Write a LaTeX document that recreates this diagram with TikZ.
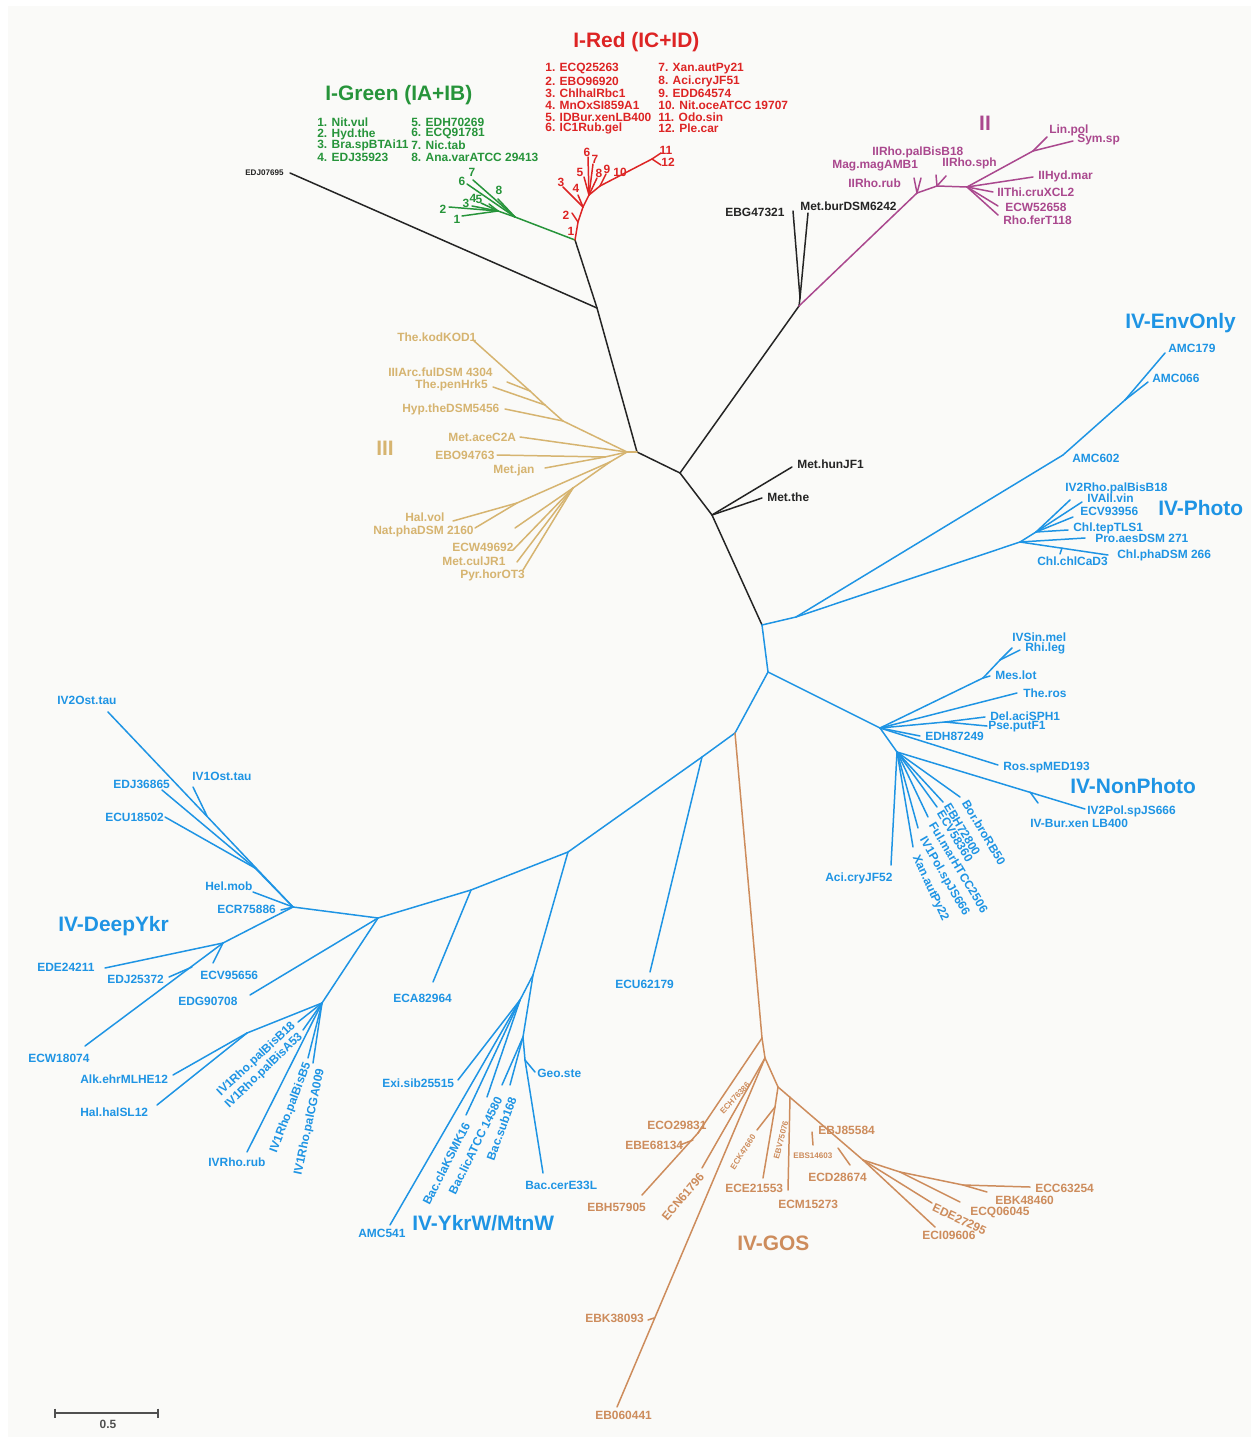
\documentclass[tikz,border=0pt]{standalone}
\usepackage{fontspec}
\setmainfont{Liberation Sans}
\usetikzlibrary{positioning}
\definecolor{cred}{RGB}{221,36,36}
\definecolor{cgreen}{RGB}{38,148,58}
\definecolor{cpurple}{RGB}{170,72,142}
\definecolor{ctan}{RGB}{214,180,112}
\definecolor{cblack}{RGB}{36,36,36}
\definecolor{cblue}{RGB}{30,148,228}
\definecolor{cgos}{RGB}{205,140,92}
\definecolor{cbg}{RGB}{250,250,248}
\definecolor{cbar}{RGB}{80,80,80}

\begin{document}
\begin{tikzpicture}[x=0.02cm,y=-0.02cm,
  br/.style={line width=0.85pt,line cap=round,line join=round},
  lf/.style={font=\bfseries\fontsize{6.8}{7}\selectfont,inner sep=0pt,anchor=west},
  num/.style={font=\bfseries\fontsize{6.8}{7}\selectfont,inner sep=0pt},
  tiny/.style={font=\bfseries\fontsize{4.6}{5}\selectfont,inner sep=0pt},
  big/.style={font=\bfseries\fontsize{11.9}{13}\selectfont,inner sep=0pt,anchor=west}]
\useasboundingbox (0,0) rectangle (1259,1443);
\fill[white] (0,0) rectangle (1259,1443);
\fill[cbg] (8,6) rectangle (1251,1437);

% backbone (black)
\coordinate (k0) at (575,240);
\coordinate (k1) at (597,308);
\coordinate (k2) at (637,452);
\coordinate (k3) at (680,473);
\coordinate (k4) at (712,515);
\coordinate (k5) at (762,625);
\coordinate (k6) at (799,306);
\coordinate (k7) at (800,298);
\coordinate (edj) at (290,173);
\coordinate (ebg) at (793,211);
\coordinate (metbur) at (808,213);
\coordinate (methun) at (792,467);
\coordinate (metthe) at (762,498);
\path[br,cblack] (k0) edge (k1) (k1) edge (k2) (k1) edge (edj)
  (k2) edge (k3) (k3) edge (k4) (k4) edge (k5) (k3) edge (k6)
  (k6) edge (k7) (k7) edge (ebg) (k7) edge (metbur)
  (k4) edge (methun) (k4) edge (metthe);
\node[tiny,cblack,anchor=west] (ledj) at (245,173) {EDJ07695};
\node[lf,cblack] (lebg) at (725,212) {EBG47321};
\node[lf,cblack] (lmetbur) at (800,206) {Met.burDSM6242};
\node[lf,cblack] (lmethun) at (797,464) {Met.hunJF1};
\node[lf,cblack] (lmetthe) at (767,497) {Met.the};

% I-Green
\coordinate (gA) at (515,217);
\coordinate (gB) at (498,211);
\coordinate (g1) at (462,216);
\coordinate (g2) at (449,207);
\coordinate (g3) at (472,206);
\coordinate (g4) at (481,203);
\coordinate (g5) at (489,204);
\coordinate (g6) at (467,184);
\coordinate (g7) at (473,180);
\coordinate (g8) at (498,199);
\path[br,cgreen] (k0) edge (gA) (gA) edge (gB)
  (gB) edge (g1) (gB) edge (g2) (gB) edge (g3) (gB) edge (g4) (gB) edge (g5)
  (gA) edge (g6) (gA) edge (g7) (gA) edge (g8);
\node[num,cgreen] (lg1) at (457,219) {1};
\node[num,cgreen] (lg2) at (443,209) {2};
\node[num,cgreen] (lg3) at (466,203) {3};
\node[num,cgreen] (lg4) at (473,198) {4};
\node[num,cgreen] (lg5) at (479,199) {5};
\node[num,cgreen] (lg6) at (462,181) {6};
\node[num,cgreen] (lg7) at (472,172) {7};
\node[num,cgreen] (lg8) at (499,190) {8};
\node[big,cgreen] (tgreen) at (325,95) {I-Green (IA+IB)};
\node[lf,cgreen] (gl1) at (317,122) {1. Nit.vul};
\node[lf,cgreen] (gl2) at (317,134) {2. Hyd.the};
\node[lf,cgreen] (gl3) at (317,145) {3. Bra.spBTAi11};
\node[lf,cgreen] (gl4) at (317,157) {4. EDJ35923};
\node[lf,cgreen] (gl5) at (411,122) {5. EDH70269};
\node[lf,cgreen] (gl6) at (411,134) {6. ECQ91781};
\node[lf,cgreen] (gl7) at (411,145) {7. Nic.tab};
\node[lf,cgreen] (gl8) at (411,157) {8. Ana.varATCC 29413};

% I-Red
\coordinate (rA) at (578,222);
\coordinate (rB) at (583,207);
\coordinate (rC) at (589,195);
\coordinate (rD) at (600,186);
\coordinate (rE) at (652,159);
\coordinate (r2) at (572,213);
\coordinate (r3) at (563,187);
\coordinate (r4) at (578,195);
\coordinate (r5) at (584,177);
\coordinate (r6) at (588,157);
\coordinate (r7) at (593,164);
\coordinate (r8) at (597,178);
\coordinate (r9) at (606,174);
\coordinate (r11) at (661,153);
\coordinate (r12) at (661,165);
\path[br,cred] (k0) edge (rA) (rA) edge (rB) (rB) edge (rC) (rC) edge (rD) (rD) edge (rE)
  (rA) edge (r2) (rB) edge (r3) (rB) edge (r4) (rC) edge (r5) (rC) edge (r6)
  (rC) edge (r7) (rC) edge (r8) (rD) edge (r9) (rE) edge (r11) (rE) edge (r12);
\node[num,cred] (lr1) at (571,231) {1};
\node[num,cred] (lr2) at (566,215) {2};
\node[num,cred] (lr3) at (561,182) {3};
\node[num,cred] (lr4) at (576,188) {4};
\node[num,cred] (lr5) at (580,172) {5};
\node[num,cred] (lr6) at (587,152) {6};
\node[num,cred] (lr7) at (595,159) {7};
\node[num,cred] (lr8) at (599,173) {8};
\node[num,cred] (lr9) at (607,169) {9};
\node[num,cred] (lr10) at (620,172) {10};
\node[num,cred] (lr11) at (666,150) {11};
\node[num,cred] (lr12) at (668,162) {12};
\node[big,cred] (tred) at (573,42) {I-Red (IC+ID)};
\node[lf,cred] (rl1) at (545,69) {1. ECQ25263};
\node[lf,cred] (rl2) at (545,81) {2. EBO96920};
\node[lf,cred] (rl3) at (545,93) {3. ChlhalRbc1};
\node[lf,cred] (rl4) at (545,105) {4. MnOxSI859A1};
\node[lf,cred] (rl5) at (545,117) {5. IDBur.xenLB400};
\node[lf,cred] (rl6) at (545,128) {6. IC1Rub.gel};
\node[lf,cred] (rl7) at (658,69) {7. Xan.autPy21};
\node[lf,cred] (rl8) at (658,81) {8. Aci.cryJF51};
\node[lf,cred] (rl9) at (658,93) {9. EDD64574};
\node[lf,cred] (rl10) at (658,105) {10. Nit.oceATCC 19707};
\node[lf,cred] (rl11) at (658,117) {11. Odo.sin};
\node[lf,cred] (rl12) at (658,128) {12. Ple.car};

% II
\coordinate (pA) at (917,193);
\coordinate (pB) at (937,186);
\coordinate (pC) at (967,187);
\coordinate (pD) at (1033,151);
\coordinate (rhorub) at (914,178);
\coordinate (magmag) at (921,178);
\coordinate (rhopal) at (936,175);
\coordinate (rhosph) at (946,176);
\coordinate (linpol) at (1047,137);
\coordinate (symsp) at (1073,141);
\coordinate (hydmar) at (1033,177);
\coordinate (thicru) at (993,192);
\coordinate (ecw526) at (998,206);
\coordinate (rhofer) at (998,215);
\path[br,cpurple] (k6) edge (pA) (pA) edge (pB) (pB) edge (pC) (pC) edge (pD)
  (pA) edge (rhorub) (pA) edge (magmag) (pB) edge (rhopal) (pB) edge (rhosph)
  (pD) edge (linpol) (pD) edge (symsp) (pC) edge (hydmar) (pC) edge (thicru)
  (pC) edge (ecw526) (pC) edge (rhofer);
\node[lf,cpurple] (lrhopal) at (872,152) {IIRho.palBisB18};
\node[lf,cpurple] (lmagmag) at (832,166) {Mag.magAMB1};
\node[lf,cpurple] (lrhorub) at (848,183) {IIRho.rub};
\node[lf,cpurple] (lrhosph) at (942,163) {IIRho.sph};
\node[lf,cpurple] (llinpol) at (1049,130) {Lin.pol};
\node[lf,cpurple] (lsymsp) at (1077,140) {Sym.sp};
\node[lf,cpurple] (lhydmar) at (1038,176) {IIHyd.mar};
\node[lf,cpurple] (lthicru) at (997,192) {IIThi.cruXCL2};
\node[lf,cpurple] (lecw526) at (1005,207) {ECW52658};
\node[lf,cpurple] (lrhofer) at (1003,220) {Rho.ferT118};
\node[big,cpurple,anchor=center] (tii) at (985,123) {II};

% III
\coordinate (tA) at (627,452);
\coordinate (tB) at (563,421);
\coordinate (tC) at (530,391);
\coordinate (tD) at (545,405);
\coordinate (tE) at (605,457);
\coordinate (tF) at (610,462);
\coordinate (tG) at (517,503);
\coordinate (tH) at (573,488);
\coordinate (thekod) at (473,340);
\coordinate (iiiarc) at (507,382);
\coordinate (thepen) at (493,387);
\coordinate (hypthe) at (505,409);
\coordinate (metace) at (520,437);
\coordinate (ebo947) at (497,455);
\coordinate (metjan) at (545,468);
\coordinate (halvol) at (453,521);
\coordinate (natpha) at (475,528);
\coordinate (tI) at (515,528);
\coordinate (ecw496) at (513,550);
\coordinate (metcul) at (517,562);
\coordinate (pyrhor) at (523,570);
\path[br,ctan] (k2) edge (tA) (tA) edge (tB) (tB) edge (tD) (tD) edge (tC) (tC) edge (thekod)
  (tC) edge (iiiarc) (tD) edge (thepen) (tB) edge (hypthe) (tA) edge (metace)
  (tA) edge (tE) (tE) edge (ebo947) (tE) edge (metjan) (tA) edge (tF)
  (tF) edge (tG) (tG) edge (halvol) (tG) edge (natpha) (tF) edge (tH)
  (tH) edge (tI) (tH) edge (ecw496) (tH) edge (metcul) (tH) edge (pyrhor);
\node[lf,ctan] (lthekod) at (397,337) {The.kodKOD1};
\node[lf,ctan] (liiiarc) at (388,372) {IIIArc.fulDSM 4304};
\node[lf,ctan] (lthepen) at (415,385) {The.penHrk5};
\node[lf,ctan] (lhypthe) at (402,409) {Hyp.theDSM5456};
\node[lf,ctan] (lmetace) at (448,437) {Met.aceC2A};
\node[lf,ctan] (lebo947) at (435,455) {EBO94763};
\node[lf,ctan] (lmetjan) at (493,470) {Met.jan};
\node[lf,ctan] (lhalvol) at (405,517) {Hal.vol};
\node[lf,ctan] (lnatpha) at (373,531) {Nat.phaDSM 2160};
\node[lf,ctan] (lecw496) at (452,547) {ECW49692};
\node[lf,ctan] (lmetcul) at (442,561) {Met.culJR1};
\node[lf,ctan] (lpyrhor) at (460,575) {Pyr.horOT3};
\node[big,ctan,anchor=center] (tiii) at (385,448) {III};

% IV-EnvOnly / IV-Photo
\coordinate (eA) at (796,617);
\coordinate (eB) at (1063,455);
\coordinate (eC) at (1125,400);
\coordinate (amc066) at (1148,382);
\coordinate (amc179) at (1165,353);
\coordinate (fA) at (1020,542);
\coordinate (fB) at (1036,532);
\coordinate (fC) at (1062,548);
\coordinate (ivrho2) at (1070,500);
\coordinate (ivall) at (1082,502);
\coordinate (ecv939) at (1073,517);
\coordinate (chltep) at (1068,530);
\coordinate (proaes) at (1085,538);
\coordinate (chlpha) at (1108,555);
\coordinate (chlchl) at (1060,554);
\path[br,cblue] (k5) edge (eA) (eA) edge (eB) (eB) edge (eC) (eC) edge (amc066) (eC) edge (amc179)
  (eA) edge (fA) (fA) edge (fB) (fB) edge (ivrho2) (fB) edge (ivall) (fB) edge (ecv939)
  (fB) edge (chltep) (fA) edge (proaes) (fA) edge (chlpha) (fC) edge (chlchl);
\node[lf,cblue] (lamc179) at (1168,348) {AMC179};
\node[lf,cblue] (lamc066) at (1152,378) {AMC066};
\node[lf,cblue] (lamc602) at (1072,458) {AMC602};
\node[lf,cblue] (livrho2) at (1065,488) {IV2Rho.palBisB18};
\node[lf,cblue] (livall) at (1087,498) {IVAll.vin};
\node[lf,cblue] (lecv939) at (1080,511) {ECV93956};
\node[lf,cblue] (lchltep) at (1073,528) {Chl.tepTLS1};
\node[lf,cblue] (lproaes) at (1095,538) {Pro.aesDSM 271};
\node[lf,cblue] (lchlpha) at (1117,555) {Chl.phaDSM 266};
\node[lf,cblue] (lchlchl) at (1037,561) {Chl.chlCaD3};
\node[big,cblue] (tenv) at (1125,323) {IV-EnvOnly};
\node[big,cblue] (tphoto) at (1158,508) {IV-Photo};

% blue backbone
\coordinate (bA) at (768,672);
\coordinate (bB) at (735,733);
\coordinate (bC) at (702,757);
\coordinate (bD) at (568,852);
\coordinate (bE) at (471,890);
\coordinate (bF) at (378,918);
\coordinate (ecu621) at (650,972);
\coordinate (eca829) at (433,982);
\path[br,cblue] (k5) edge (bA) (bA) edge (bB) (bB) edge (bC) (bC) edge (bD) (bD) edge (bE)
  (bE) edge (bF) (bC) edge (ecu621) (bE) edge (eca829);
\node[lf,cblue] (lecu621) at (615,984) {ECU62179};
\node[lf,cblue] (leca829) at (393,998) {ECA82964};

% IV-NonPhoto
\coordinate (nA) at (880,728);
\coordinate (nB) at (983,678);
\coordinate (nC) at (1000,660);
\coordinate (nD) at (945,722);
\coordinate (nE) at (897,752);
\coordinate (nF) at (1030,792);
\coordinate (sinmel) at (1012,648);
\coordinate (rhileg) at (1020,650);
\coordinate (meslot) at (990,676);
\coordinate (theros) at (1017,693);
\coordinate (delaci) at (985,717);
\coordinate (pseput) at (987,726);
\coordinate (edh872) at (920,736);
\coordinate (rossp) at (998,765);
\coordinate (ivpol2) at (1085,809);
\coordinate (burxen) at (1038,803);
\coordinate (borbro) at (960,797);
\coordinate (ebh728) at (943,802);
\coordinate (ecv583) at (937,807);
\coordinate (fulmar) at (928,817);
\coordinate (ivpol1) at (918,828);
\coordinate (xanaut) at (913,847);
\coordinate (acicry) at (891,865);
\path[br,cblue] (bA) edge (nA) (nA) edge (nB) (nB) edge (nC) (nC) edge (sinmel) (nC) edge (rhileg)
  (nB) edge (meslot) (nA) edge (theros) (nA) edge (nD) (nD) edge (delaci) (nD) edge (pseput)
  (nA) edge (edh872) (nA) edge (rossp) (nA) edge (nE) (nE) edge (ivpol2) (nF) edge (burxen)
  (nE) edge (borbro) (nE) edge (ebh728) (nE) edge (ecv583) (nE) edge (fulmar)
  (nE) edge (ivpol1) (nE) edge (xanaut) (nE) edge (acicry);
\node[lf,cblue] (lsinmel) at (1012,637) {IVSin.mel};
\node[lf,cblue] (lrhileg) at (1025,648) {Rhi.leg};
\node[lf,cblue] (lmeslot) at (995,675) {Mes.lot};
\node[lf,cblue] (ltheros) at (1023,693) {The.ros};
\node[lf,cblue] (ldelaci) at (990,716) {Del.aciSPH1};
\node[lf,cblue] (lpseput) at (988,727) {Pse.putF1};
\node[lf,cblue] (ledh872) at (925,736) {EDH87249};
\node[lf,cblue] (lrossp) at (1003,768) {Ros.spMED193};
\node[lf,cblue] (livpol2) at (1087,811) {IV2Pol.spJS666};
\node[lf,cblue] (lburxen) at (1030,823) {IV-Bur.xen LB400};
\node[lf,cblue,rotate=-59] (lborbro) at (965,801) {Bor.broRB50};
\node[lf,cblue,rotate=-59] (lebh728) at (947,804) {EBH72800};
\node[lf,cblue,rotate=-59] (lecv583) at (940,811) {ECV58360};
\node[lf,cblue,rotate=-59] (lfulmar) at (932,823) {Ful.marHTCC2506};
\node[lf,cblue,rotate=-60] (livpol1) at (922,838) {IV1Pol.spJS666};
\node[lf,cblue,rotate=-65] (lxanaut) at (915,856) {Xan.autPy22};
\node[lf,cblue] (lacicry) at (825,878) {Aci.cryJF52};
\node[big,cblue] (tnonph) at (1070,786) {IV-NonPhoto};

% IV-DeepYkr
\coordinate (dA) at (293,907);
\coordinate (dB) at (207,816);
\coordinate (dC) at (255,868);
\coordinate (dD) at (223,943);
\coordinate (dE) at (192,967);
\coordinate (rA0) at (322,1003);
\coordinate (rA1) at (247,1033);
\coordinate (ost2) at (108,712);
\coordinate (ost1) at (193,787);
\coordinate (edj368) at (162,790);
\coordinate (ecu185) at (165,817);
\coordinate (helmob) at (253,892);
\coordinate (ecr758) at (281,910);
\coordinate (ede242) at (105,968);
\coordinate (edj253) at (169,977);
\coordinate (ecv956) at (213,963);
\coordinate (ecw180) at (85,1046);
\coordinate (edg907) at (250,995);
\coordinate (alkehr) at (173,1075);
\coordinate (halhal) at (157,1105);
\coordinate (rhob18) at (298,1022);
\coordinate (rhoa53) at (303,1030);
\coordinate (rhob5) at (308,1058);
\coordinate (rhocga) at (313,1063);
\coordinate (rhorub4) at (247,1152);
\path[br,cblue] (bF) edge (dA) (dA) edge (ost2) (dB) edge (ost1) (dA) edge (dC)
  (dC) edge (edj368) (dC) edge (ecu185) (dA) edge (helmob) (dA) edge (ecr758)
  (dA) edge (dD) (dD) edge (ede242) (dD) edge (ecv956) (dD) edge (ecw180) (dE) edge (edj253)
  (bF) edge (edg907) (bF) edge (rA0) (rA0) edge (rA1) (rA1) edge (alkehr) (rA1) edge (halhal)
  (rA0) edge (rhob18) (rA0) edge (rhoa53) (rA0) edge (rhob5) (rA0) edge (rhocga) (rA0) edge (rhorub4);
\node[lf,cblue] (lost2) at (57,700) {IV2Ost.tau};
\node[lf,cblue] (lost1) at (192,776) {IV1Ost.tau};
\node[lf,cblue] (ledj368) at (113,784) {EDJ36865};
\node[lf,cblue] (lecu185) at (105,817) {ECU18502};
\node[lf,cblue] (lhelmob) at (205,886) {Hel.mob};
\node[lf,cblue] (lecr758) at (217,909) {ECR75886};
\node[lf,cblue] (lede242) at (37,967) {EDE24211};
\node[lf,cblue] (ledj253) at (107,979) {EDJ25372};
\node[lf,cblue] (lecv956) at (200,975) {ECV95656};
\node[lf,cblue] (ledg907) at (178,1001) {EDG90708};
\node[lf,cblue] (lecw180) at (28,1058) {ECW18074};
\node[lf,cblue] (lalkehr) at (80,1079) {Alk.ehrMLHE12};
\node[lf,cblue] (lhalhal) at (80,1112) {Hal.halSL12};
\node[lf,cblue] (lrhorub4) at (208,1162) {IVRho.rub};
\node[lf,cblue,anchor=east,rotate=43] (lrhob18) at (294,1024) {IV1Rho.palBisB18};
\node[lf,cblue,anchor=east,rotate=44] (lrhoa53) at (301,1035) {IV1Rho.palBisA53};
\node[lf,cblue,anchor=east,rotate=69] (lrhob5) at (308,1063) {IV1Rho.palBisB5};
\node[lf,cblue,anchor=east,rotate=78] (lrhocga) at (321,1069) {IV1Rho.palCGA009};
\node[big,cblue] (tdeep) at (58,926) {IV-DeepYkr};

% IV-YkrW/MtnW
\coordinate (yA) at (533,975);
\coordinate (yB) at (520,1000);
\coordinate (yC) at (523,1037);
\coordinate (yD) at (525,1060);
\coordinate (amc541) at (390,1225);
\coordinate (exisib) at (458,1080);
\coordinate (baccla) at (466,1115);
\coordinate (baclic) at (487,1097);
\coordinate (bacsubA) at (502,1085);
\coordinate (bacsubB) at (510,1085);
\coordinate (geoste) at (535,1072);
\coordinate (baccer) at (543,1173);
\path[br,cblue] (bD) edge (yA) (yA) edge (yB) (yB) edge (amc541) (yB) edge (exisib)
  (yB) edge (baccla) (yB) edge (baclic) (yA) edge (yC) (yC) edge (bacsubA) (yC) edge (bacsubB)
  (yC) edge (yD) (yD) edge (geoste) (yD) edge (baccer);
\node[lf,cblue] (lamc541) at (358,1233) {AMC541};
\node[lf,cblue] (lexisib) at (382,1083) {Exi.sib25515};
\node[lf,cblue] (lgeoste) at (537,1073) {Geo.ste};
\node[lf,cblue] (lbaccer) at (525,1185) {Bac.cerE33L};
\node[lf,cblue,anchor=east,rotate=63] (lbaccla) at (467,1123) {Bac.claKSMK16};
\node[lf,cblue,anchor=east,rotate=64] (lbaclic) at (499,1097) {Bac.licATCC 14580};
\node[lf,cblue,anchor=east,rotate=70] (lbacsub) at (513,1097) {Bac.sub168};
\node[big,cblue] (tykr) at (412,1223) {IV-YkrW/MtnW};

% IV-GOS
\coordinate (oA) at (762,1038);
\coordinate (oB) at (698,1133);
\coordinate (oC) at (693,1140);
\coordinate (oD) at (765,1058);
\coordinate (oE) at (778,1087);
\coordinate (oF) at (775,1107);
\coordinate (oG) at (790,1097);
\coordinate (oH) at (812,1132);
\coordinate (oI) at (838,1148);
\coordinate (oJ) at (863,1160);
\coordinate (oK) at (900,1172);
\coordinate (oL) at (963,1185);
\coordinate (oM) at (654,1318);
\coordinate (eco298) at (704,1124);
\coordinate (ebe681) at (680,1145);
\coordinate (ebh579) at (642,1195);
\coordinate (ecn617) at (702,1168);
\coordinate (eb0604) at (617,1407);
\coordinate (ebk380) at (648,1320);
\coordinate (eck476) at (757,1130);
\coordinate (ece215) at (763,1178);
\coordinate (ebv750) at (788,1190);
\coordinate (ebj855) at (813,1145);
\coordinate (ecd286) at (850,1165);
\coordinate (eci096) at (935,1227);
\coordinate (ede272) at (932,1203);
\coordinate (ecq060) at (960,1202);
\coordinate (ebk484) at (987,1192);
\coordinate (ecc632) at (1030,1187);
\path[br,cgos] (bB) edge (oA) (oA) edge (oB) (oB) edge (ebh579) (oB) edge (eco298) (oC) edge (ebe681)
  (oA) edge (oD) (oD) edge (ecn617) (oD) edge (eb0604) (oM) edge (ebk380)
  (oD) edge (oE) (oE) edge (oF) (oF) edge (eck476) (oF) edge (ece215) (oG) edge (ebv750)
  (oE) edge (oJ) (oH) edge (ebj855) (oI) edge (ecd286) (oJ) edge (eci096) (oJ) edge (ede272)
  (oJ) edge (oK) (oK) edge (ecq060) (oK) edge (oL) (oL) edge (ebk484) (oL) edge (ecc632);
\node[lf,cgos] (leco298) at (647,1125) {ECO29831};
\node[lf,cgos] (lebe681) at (625,1145) {EBE68134};
\node[lf,cgos] (lebh579) at (587,1207) {EBH57905};
\node[lf,cgos,anchor=east,rotate=50] (lecn617) at (702,1174) {ECN61796};
\node[tiny,cgos,rotate=47] (lech763) at (735,1098) {ECH76386};
\node[tiny,cgos,rotate=57] (leck476) at (743,1152) {ECK47660};
\node[tiny,cgos,rotate=76] (lebv750) at (781,1140) {EBV75076};
\node[tiny,cgos,anchor=west] (lebs146) at (793,1156) {EBS14603};
\node[lf,cgos] (lece215) at (725,1188) {ECE21553};
\node[lf,cgos] (lecm152) at (778,1204) {ECM15273};
\node[lf,cgos] (lebj855) at (818,1130) {EBJ85584};
\node[lf,cgos] (lecd286) at (808,1177) {ECD28674};
\node[lf,cgos] (leci096) at (922,1235) {ECI09606};
\node[lf,cgos,rotate=-25] (lede272) at (933,1207) {EDE27295};
\node[lf,cgos] (lecq060) at (970,1212) {ECQ06045};
\node[lf,cgos] (lebk484) at (995,1200) {EBK48460};
\node[lf,cgos] (lecc632) at (1035,1188) {ECC63254};
\node[lf,cgos] (lebk380) at (585,1318) {EBK38093};
\node[lf,cgos] (leb0604) at (595,1415) {EB060441};
\node[big,cgos] (tgos) at (737,1243) {IV-GOS};

% scale bar
\coordinate (sA) at (55,1413);
\coordinate (sB) at (158,1413);
\path[cbar,line width=1pt] (sA) edge (sB)
  ([yshift=0.09cm]sA) edge ([yshift=-0.09cm]sA)
  ([yshift=0.09cm]sB) edge ([yshift=-0.09cm]sB);
\node[num,cbar] (lbar) at (108,1424) {0.5};
\end{tikzpicture}
\end{document}
